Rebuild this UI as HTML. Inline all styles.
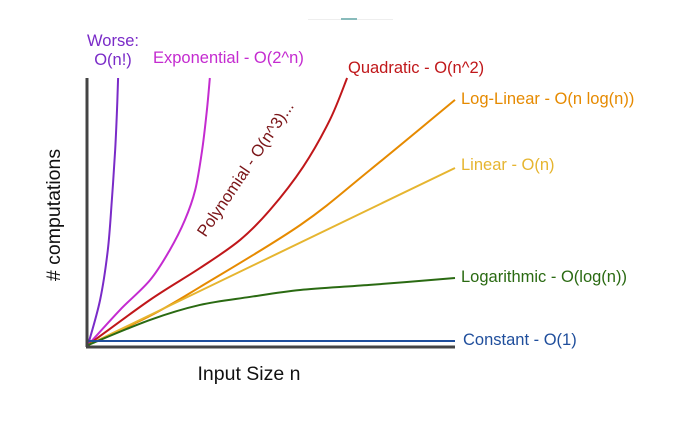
<!DOCTYPE html>
<html><head><meta charset="utf-8"><style>
html,body{margin:0;padding:0;background:#fff;}
svg{display:block;font-family:"Liberation Sans",sans-serif;}
</style></head><body>
<svg id="chart" width="688" height="424" viewBox="0 0 688 424">
<rect x="308" y="19" width="85" height="1" fill="#eee"/><rect x="341" y="18" width="16" height="2" fill="#8bb"/>
<g id="series"></g>
<line x1="87" y1="78" x2="87" y2="347" stroke="#444" stroke-width="3"/>
<line x1="86" y1="347" x2="455" y2="347" stroke="#444" stroke-width="3"/>
<text x="60" y="215" font-size="19.5" fill="#111" text-anchor="middle" transform="rotate(-90 60 215)"># computations</text>
<text x="249" y="380" font-size="19.5" fill="#111" text-anchor="middle">Input Size n</text>
<text x="113" y="46" font-size="16.5" fill="#7a2bc8" text-anchor="middle">Worse:</text>
<text x="113" y="65" font-size="16.5" fill="#7a2bc8" text-anchor="middle">O(n!)</text>
<text x="153" y="63" font-size="16.5" fill="#c42bd0">Exponential - O(2^n)</text>
<text x="348" y="73" font-size="16.5" fill="#c0171a">Quadratic - O(n^2)</text>
<text x="461" y="104" font-size="16.5" fill="#e68a00">Log-Linear - O(n log(n))</text>
<text x="461" y="170" font-size="16.5" fill="#e6b530">Linear - O(n)</text>
<text x="461" y="282" font-size="16.5" fill="#2a6a12">Logarithmic - O(log(n))</text>
<text x="463" y="345" font-size="16.5" fill="#1f4e9c">Constant - O(1)</text>
<text x="250" y="172" font-size="16.5" fill="#7a1518" text-anchor="middle" transform="rotate(-56 250 172)">Polynomial - O(n^3)...</text>
</svg>
<script>
const seriesNames=["factorial","exponential","quadratic","log-linear","linear","logarithmic","constant"];
const seriesColors=["#7a2bc8","#c42bd0","#c0171a","#e68a00","#e6b530","#2a6a12","#1f4e9c"];
const factorialX=[0,3.3,5.4,6.5,7.4,7.9,8.2];
const factorialY=[0,16.9,35.6,54.3,73,88,100];
const exponentialX=[0,8.7,16.9,22.3,26.4,29.2,31.1,32.4,33.2];
const exponentialY=[0,13.1,24.3,35.6,46.8,58,73,88,100];
const quadraticX=[0,16.9,30.5,41.4,49.6,58.6,65.9,70.6];
const quadraticY=[0,16.9,28.8,39.3,50.6,66.7,84.3,100];
const logLinearX=[0,16.9,30.5,57.8,76.8,100];
const logLinearY=[0,10.9,21.7,44.9,65.5,91.8];
const linearX=[0,100];
const linearY=[0,66.3];
const logX=[0,16.9,30.5,44.1,57.8,76.8,100];
const logY=[0,9.4,15,18,20.6,22.5,25.1];
const constantX=[0,100];
const constantY=[1.5,1.5];
const allX=[factorialX,exponentialX,quadraticX,logLinearX,linearX,logX,constantX];
const allY=[factorialY,exponentialY,quadraticY,logLinearY,linearY,logY,constantY];
function sx(v){return 88+v/100*367;}
function sy(v){return 345-v/100*267;}
const g=document.getElementById('series');
for(let s=0;s<allX.length;s++){
  const p=allX[s].map((x,i)=>[sx(x),sy(allY[s][i])]);
  let d="M"+p[0][0]+","+p[0][1];
  for(let i=0;i<p.length-1;i++){
    const p0=p[Math.max(i-1,0)],p1=p[i],p2=p[i+1],p3=p[Math.min(i+2,p.length-1)];
    const c1=[p1[0]+(p2[0]-p0[0])/6,p1[1]+(p2[1]-p0[1])/6];
    const c2=[p2[0]-(p3[0]-p1[0])/6,p2[1]-(p3[1]-p1[1])/6];
    d+=` C${c1[0]},${c1[1]} ${c2[0]},${c2[1]} ${p2[0]},${p2[1]}`;
  }
  const el=document.createElementNS("http://www.w3.org/2000/svg","path");
  el.setAttribute("d",d);
  el.setAttribute("fill","none");
  el.setAttribute("stroke",seriesColors[s]);
  el.setAttribute("stroke-width","2");
  
  
  g.appendChild(el);
}
</script>
</body></html>
